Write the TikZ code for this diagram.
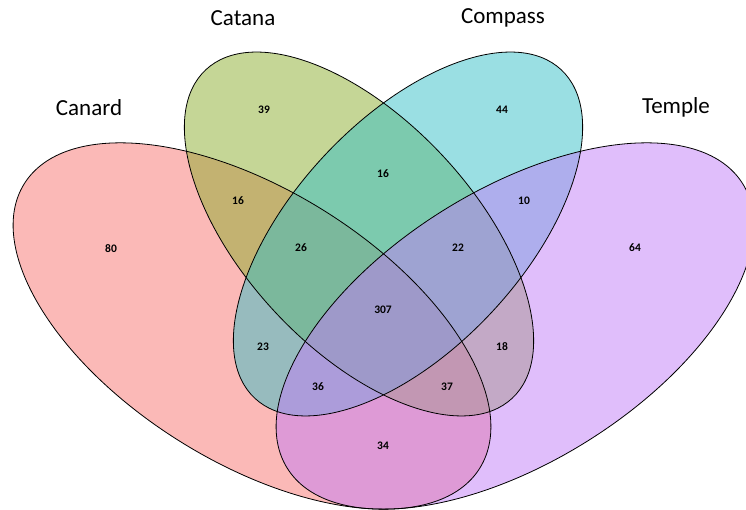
\documentclass[tikz,border=0pt]{standalone}
\usepackage{fontspec}
\setmainfont{Carlito}

\definecolor{canardcol}{HTML}{F7736F}
\definecolor{catanacol}{HTML}{8BAD2D}
\definecolor{compasscol}{HTML}{35BFC7}
\definecolor{templecol}{HTML}{C27DF7}

\begin{document}
\begin{tikzpicture}[x=1pt,y=1pt]
		\tikzstyle{setfill}=[fill opacity=0.5]
		\tikzstyle{rim}=[draw=black,line width=0.8pt]
		\tikzstyle{count}=[font=\fontsize{11.5}{13}\selectfont\bfseries,inner sep=1pt]
		\tikzstyle{title}=[font=\fontsize{23}{26}\selectfont,inner sep=1pt]

		\clip (0,0) rectangle (746,510);

		% the four sets: centre x/y, angle, radii, colour
		\foreach \cx/\cy/\ang/\ra/\rb/\col in {252/184/-32/268.5/136/canardcol,
				359/276/-47/224.6/114.6/catanacol,
				408/276/47/224.6/114.6/compasscol,
				515/184/32/268.5/136/templecol}
			\fill[setfill,\col,rotate around={\ang:(\cx,\cy)}] (\cx,\cy) ellipse [x radius=\ra pt,y radius=\rb pt];
		\foreach \cx/\cy/\ang/\ra/\rb in {252/184/-32/268.5/136,
				359/276/-47/224.6/114.6,
				408/276/47/224.6/114.6,
				515/184/32/268.5/136}
			\draw[rim,rotate around={\ang:(\cx,\cy)}] (\cx,\cy) ellipse [x radius=\ra pt,y radius=\rb pt];

		% set names
		\node[title] (canard) at (89,402) {Canard};
		\node[title] (catana) at (243,492) {Catana};
		\node[title] (compass) at (503,492) {Compass};
		\node[title] (temple) at (676,403) {Temple};

		% counts
		\node[count] (canard-only) at (111,261) {80};
		\node[count] (catana-only) at (264,400) {39};
		\node[count] (compass-only) at (502,400) {44};
		\node[count] (temple-only) at (635,262) {64};
		\node[count] (canard-catana) at (238,309) {16};
		\node[count] (catana-compass) at (383,336) {16};
		\node[count] (compass-temple) at (524,309) {10};
		\node[count] (no-temple) at (301,262) {26};
		\node[count] (no-canard) at (458,262) {22};
		\node[count] (all) at (383,200) {307};
		\node[count] (canard-compass) at (263,163) {23};
		\node[count] (catana-temple) at (502,163) {18};
		\node[count] (no-catana) at (318,123) {36};
		\node[count] (no-compass) at (447,123) {37};
		\node[count] (canard-temple) at (383,64) {34};
	\end{tikzpicture}
\end{document}
